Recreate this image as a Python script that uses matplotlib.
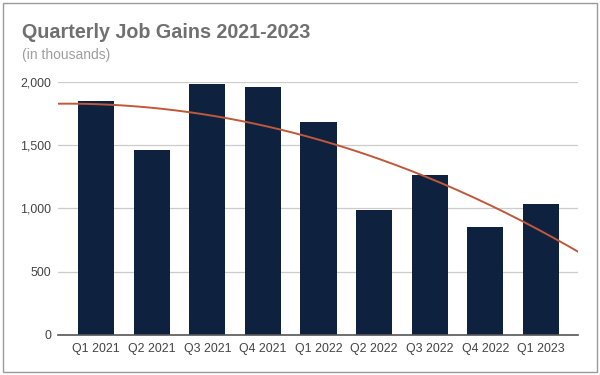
import numpy as np
import matplotlib
matplotlib.use("Agg")
import matplotlib.pyplot as plt
from matplotlib.patches import Rectangle

quarters = ["Q1 2021", "Q2 2021", "Q3 2021", "Q4 2021", "Q1 2022",
            "Q2 2022", "Q3 2022", "Q4 2022", "Q1 2023"]
job_gains = [1851, 1461, 1983, 1962, 1680, 984, 1263, 852, 1031]
y_ticks = [0, 500, 1000, 1500, 2000]

plt.rcParams["font.family"] = ["Liberation Sans", "DejaVu Sans"]

fig = plt.figure(figsize=(6, 3.75), dpi=100)
ax = fig.add_axes([58.3 / 600, 1 - 334.7 / 375, 520 / 600, 252.7 / 375])

x = np.arange(len(quarters))
ax.bar(x, job_gains, width=0.65, color="#0e2240", zorder=2)

# polynomial (degree 2) trendline, like the spreadsheet one
coef = np.polyfit(x, job_gains, 2)
xs = np.linspace(-0.684, 8.675, 200)
ax.plot(xs, np.polyval(coef, xs), color="#c0583a", lw=1.4, zorder=3)

ax.set_xlim(-0.684, 8.675)
ax.set_ylim(0, 2000)
ax.set_yticks(y_ticks)
ax.set_yticklabels([f"{v:,}" for v in y_ticks])
ax.set_xticks(x)
ax.set_xticklabels(quarters)
ax.tick_params(length=0, labelsize=8.9, colors="#444444")
ax.tick_params(axis="x", pad=6)
ax.tick_params(axis="y", pad=5)
ax.grid(axis="y", color="#cccccc", lw=0.9, zorder=0)
for s in ["top", "right", "left"]:
    ax.spines[s].set_visible(False)
ax.spines["bottom"].set_color("#555555")
ax.spines["bottom"].set_linewidth(1.2)
ax.spines["bottom"].set_zorder(4)

fig.text(22 / 600, 1 - 33 / 375, "Quarterly Job Gains 2021-2023", fontsize=14.2,
         fontweight="bold", color="#707070", va="center")
fig.text(22 / 600, 1 - 55 / 375, "(in thousands)", fontsize=10,
         color="#9e9e9e", va="center")

fig.patches.append(Rectangle((3 / 600, 3 / 375), 594 / 600, 369 / 375,
                             transform=fig.transFigure, fill=False,
                             edgecolor="#9a9a9a", lw=1))

fig.savefig("out.png", dpi=100)
